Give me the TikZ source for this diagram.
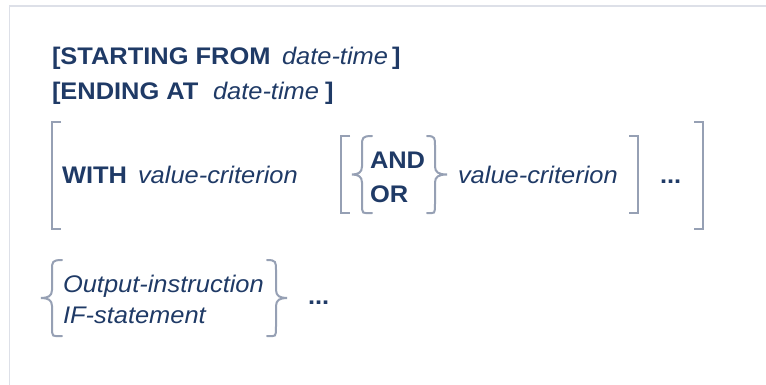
\documentclass[tikz,border=0pt]{standalone}
\usepackage{fontspec}
\setmainfont{Liberation Sans}[FakeStretch=1.06]
\definecolor{txt}{HTML}{1F3A66}
\definecolor{brk}{HTML}{96A0B4}
\definecolor{frame}{HTML}{DDE0E8}
\tikzset{
  lbl/.style={anchor=base west, inner sep=0pt, outer sep=0pt, text=txt, font=\fontsize{24}{28}\selectfont},
  brkline/.style={draw=brk, line width=2.4pt, line cap=butt, line join=miter},
  braceline/.style={draw=brk, line width=2pt, line cap=round}
}
\newcommand{\sqL}[3]{\draw[brkline] (#1+9,-#2) -- (#1,-#2) -- (#1,-#3) -- (#1+9,-#3);}
\newcommand{\sqR}[3]{\draw[brkline] (#1-9,-#2) -- (#1,-#2) -- (#1,-#3) -- (#1-9,-#3);}
% brace: ends x, body x, tip x, top y, bottom y
\newcommand{\brL}[5]{\pgfmathsetmacro{\ym}{(#4+#5)/2}
\draw[braceline] (#1,-#4) .. controls (#2,-#4) and (#2,-#4-2) .. (#2,-#4-10) -- (#2,-\ym+8)
 .. controls (#2,-\ym+2) and (#2-4,-\ym) .. (#3,-\ym) .. controls (#2-4,-\ym) and (#2,-\ym-2) .. (#2,-\ym-8)
 -- (#2,-#5+10) .. controls (#2,-#5-2) and (#2,-#5) .. (#1,-#5);}
\newcommand{\brR}[5]{\pgfmathsetmacro{\ym}{(#4+#5)/2}
\draw[braceline] (#1,-#4) .. controls (#2,-#4) and (#2,-#4-2) .. (#2,-#4-10) -- (#2,-\ym+8)
 .. controls (#2,-\ym+2) and (#2+4,-\ym) .. (#3,-\ym) .. controls (#2+4,-\ym) and (#2,-\ym-2) .. (#2,-\ym-8)
 -- (#2,-#5+10) .. controls (#2,-#5-2) and (#2,-#5) .. (#1,-#5);}
\begin{document}
\begin{tikzpicture}[x=1pt,y=1pt]
\useasboundingbox (0,0) rectangle (766,-385);
\fill[white] (0,0) rectangle (766,-385);
% frame
\draw[frame, line width=1.6pt] (9.5,-385) -- (9.5,-6) -- (766,-6);
% line 1
\node[lbl] (s1) at (52,-65) {\textbf{[STARTING FROM}};
\node[lbl] (d1) at (282,-65) {\textit{date-time}};
\node[lbl] (c1) at (392,-65) {\textbf{]}};
% line 2
\node[lbl] (s2) at (52,-100) {\textbf{[ENDING AT}};
\node[lbl] (d2) at (213,-100) {\textit{date-time}};
\node[lbl] (c2) at (325,-100) {\textbf{]}};
% WITH group
\sqL{52}{122}{229}
\node[lbl] (with) at (62,-183) {\textbf{WITH}};
\node[lbl] (vc1) at (138,-183) {\textit{value-criterion}};
\sqL{341}{136}{213}
\brL{372}{362}{352}{136}{213}
\node[lbl] (and) at (370,-168) {\textbf{AND}};
\node[lbl] (or) at (370,-203) {\textbf{OR}};
\brR{427}{435}{447}{136}{213}
\node[lbl] (vc2) at (458,-183) {\textit{value-criterion}};
\sqR{638}{136}{213}
\node[lbl] (dots1) at (660,-183) {\textbf{...}};
\sqR{703}{122}{229}
% output group
\brL{62}{52}{41}{260}{336}
\node[lbl] (oi) at (63,-292) {\textit{Output-instruction}};
\node[lbl] (ifs) at (63,-323) {\textit{IF-statement}};
\brR{267}{276}{287}{260}{336}
\node[lbl] (dots2) at (308,-304) {\textbf{...}};
\end{tikzpicture}
\end{document}
